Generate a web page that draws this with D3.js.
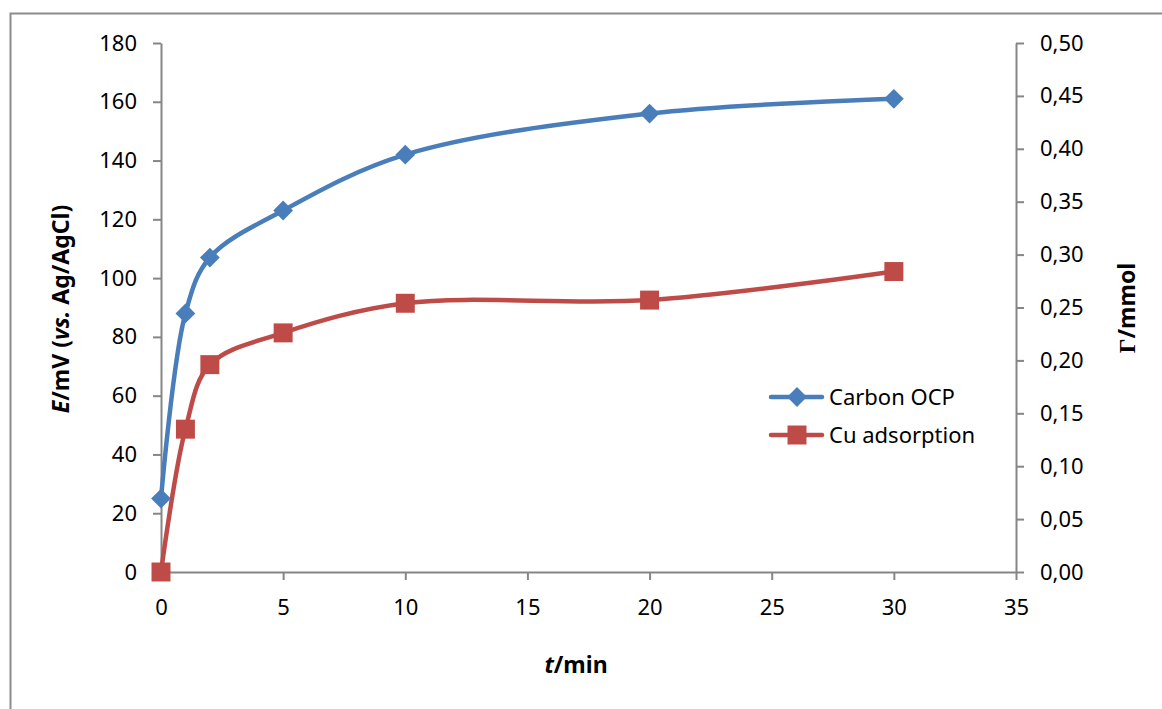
<!DOCTYPE html>
<html>
<head>
<meta charset="utf-8">
<script src="https://cdn.jsdelivr.net/npm/d3@7"></script>
<style>
  body { margin: 0; background: #fff; }
  svg { display: block; font-family: "Noto Sans", sans-serif; }
</style>
</head>
<body>
<div id="chart"></div>
<script>
(function () {
  // time, min
  var times = [0, 1, 2, 5, 10, 20, 30];
  // carbon open circuit potential, mV vs Ag/AgCl (left axis)
  var ocpValues = [25, 88, 107, 123, 142, 156, 161];
  // Cu adsorbed, mmol (right axis)
  var cuValues = [0, 0.135, 0.196, 0.226, 0.254, 0.257, 0.284];

  var xTicks = [0, 5, 10, 15, 20, 25, 30, 35];
  var yTicks = [0, 20, 40, 60, 80, 100, 120, 140, 160, 180];
  var y2Ticks = [0, 0.05, 0.10, 0.15, 0.20, 0.25, 0.30, 0.35, 0.40, 0.45, 0.50];

  var seriesNames = ['Carbon OCP', 'Cu adsorption'];

  var width = 1162, height = 709,
      left = 161, right = 1016, top = 43, bottom = 572,
      axisColor = '#868686',
      blue = '#4a7ebb', red = '#be4b48';

  var svg = d3.select('#chart').append('svg')
    .attr('width', width)
    .attr('height', height);

  // outer frame of the picture
  svg.append('rect')
    .attr('x', 10.5).attr('y', 13.5)
    .attr('width', width).attr('height', height)
    .attr('fill', 'none')
    .attr('stroke', '#8c8c8c')
    .attr('stroke-width', 2);

  var x = d3.scaleLinear().domain([0, 35]).range([left, right]);
  var y = d3.scaleLinear().domain([0, 180]).range([bottom, top]);
  var y2 = d3.scaleLinear().domain([0, 0.5]).range([bottom, top]);

  function styleAxis(g) {
    g.select('.domain').attr('stroke', axisColor).attr('stroke-width', 2);
    g.selectAll('.tick line').attr('stroke', axisColor).attr('stroke-width', 2);
    g.selectAll('.tick text')
      .attr('fill', '#000')
      .style('font-size', '22px')
      .style('font-family', '"Noto Sans", sans-serif');
  }

  svg.append('g')
    .attr('transform', 'translate(0,' + bottom + ')')
    .call(d3.axisBottom(x).tickValues(xTicks).tickSize(8).tickSizeOuter(0).tickPadding(15))
    .call(styleAxis)
    .call(function (g) { g.selectAll('.tick text').attr('dy', '0.9em'); });

  svg.append('g')
    .attr('transform', 'translate(' + left + ',0)')
    .call(d3.axisLeft(y).tickValues(yTicks).tickSize(8).tickSizeOuter(0).tickPadding(16))
    .call(styleAxis);

  var commaFmt = function (d) { return d3.format('.2f')(d).replace('.', ','); };
  svg.append('g')
    .attr('transform', 'translate(' + right + ',0)')
    .call(d3.axisRight(y2).tickValues(y2Ticks).tickSize(8).tickSizeOuter(0).tickPadding(16)
      .tickFormat(commaFmt))
    .call(styleAxis);

  // axis titles
  var yTitle = svg.append('text')
    .attr('transform', 'translate(69,309) rotate(-90)')
    .attr('text-anchor', 'middle')
    .style('font-size', '23px')
    .style('font-weight', 'bold');
  yTitle.append('tspan').style('font-style', 'italic').text('E');
  yTitle.append('tspan').text('/mV (');
  yTitle.append('tspan').style('font-style', 'italic').text('vs.');
  yTitle.append('tspan').text(' Ag/AgCl)');

  var xTitle = svg.append('text')
    .attr('x', 576).attr('y', 673)
    .attr('text-anchor', 'middle')
    .style('font-size', '23px')
    .style('font-weight', 'bold');
  xTitle.append('tspan').style('font-style', 'italic').text('t');
  xTitle.append('tspan').text('/min');

  var gTitle = svg.append('text')
    .attr('transform', 'translate(1135,308) rotate(-90)')
    .attr('text-anchor', 'middle')
    .style('font-size', '23px')
    .style('font-weight', 'bold');
  gTitle.append('tspan').style('font-family', '"Liberation Serif", serif').text('\u0393');
  gTitle.append('tspan').text('/mmol');

  var curve = d3.curveCatmullRom.alpha(0.5);

  var ocp = times.map(function (t, i) { return { t: t, v: ocpValues[i] }; });
  var cu = times.map(function (t, i) { return { t: t, v: cuValues[i] }; });

  svg.append('path')
    .datum(cu)
    .attr('fill', 'none')
    .attr('stroke', red)
    .attr('stroke-width', 4.5)
    .attr('d', d3.line().curve(curve)
      .x(function (d) { return x(d.t); })
      .y(function (d) { return y2(d.v); }));

  svg.append('path')
    .datum(ocp)
    .attr('fill', 'none')
    .attr('stroke', blue)
    .attr('stroke-width', 4.5)
    .attr('d', d3.line().curve(curve)
      .x(function (d) { return x(d.t); })
      .y(function (d) { return y(d.v); }));

  var diamond = d3.symbol().type(d3.symbolDiamond2).size(250);
  var square = d3.symbol().type(d3.symbolSquare).size(360);

  svg.selectAll('.ocp-mark')
    .data(ocp).enter().append('path')
    .attr('class', 'ocp-mark')
    .attr('transform', function (d) { return 'translate(' + x(d.t) + ',' + y(d.v) + ')'; })
    .attr('d', diamond)
    .attr('fill', blue);

  svg.selectAll('.cu-mark')
    .data(cu).enter().append('path')
    .attr('class', 'cu-mark')
    .attr('transform', function (d) { return 'translate(' + x(d.t) + ',' + y2(d.v) + ')'; })
    .attr('d', square)
    .attr('fill', red);

  // legend
  var legend = svg.append('g');
  var legendRows = [
    { name: seriesNames[0], color: blue, sym: diamond, y: 397 },
    { name: seriesNames[1], color: red, sym: square, y: 435 }
  ];
  legendRows.forEach(function (r) {
    legend.append('line')
      .attr('x1', 771).attr('x2', 822)
      .attr('y1', r.y).attr('y2', r.y)
      .attr('stroke', r.color)
      .attr('stroke-width', 4.5)
      .attr('stroke-linecap', 'round');
    legend.append('path')
      .attr('transform', 'translate(797,' + r.y + ')')
      .attr('d', r.sym)
      .attr('fill', r.color);
    legend.append('text')
      .attr('x', 829).attr('y', r.y + 8)
      .style('font-size', '22px')
      .text(r.name);
  });
})();
</script>
</body>
</html>
